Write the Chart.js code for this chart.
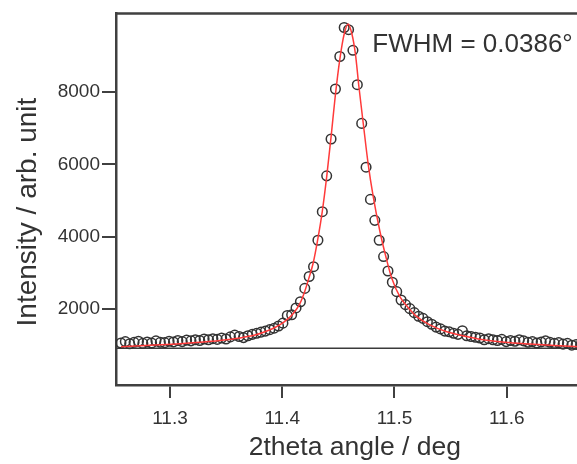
<!DOCTYPE html>
<html>
<head>
<meta charset="utf-8">
<script src="https://cdn.jsdelivr.net/npm/chart.js@4"></script>
<style>
  html, body { margin: 0; padding: 0; background: #fff; overflow: hidden; }
  #wrap { width: 600px; height: 464px; }
</style>
</head>
<body>
<div id="wrap"><canvas id="xrd" width="600" height="464"></canvas></div>
<script>
// ---------- data ----------
const angle = [
  11.2563, 11.2602, 11.2641, 11.2680, 11.2719, 11.2758, 11.2797, 11.2836, 11.2875, 11.2914,
  11.2953, 11.2992, 11.3031, 11.3070, 11.3109, 11.3148, 11.3187, 11.3226, 11.3265, 11.3304,
  11.3343, 11.3382, 11.3421, 11.3460, 11.3499, 11.3538, 11.3577, 11.3616, 11.3655, 11.3694,
  11.3733, 11.3772, 11.3811, 11.3850, 11.3889, 11.3928, 11.3967, 11.4006, 11.4045, 11.4084,
  11.4123, 11.4162, 11.4201, 11.4240, 11.4279, 11.4318, 11.4357, 11.4396, 11.4435, 11.4474,
  11.4513, 11.4552, 11.4591, 11.4630, 11.4669, 11.4708, 11.4747, 11.4786, 11.4825, 11.4864,
  11.4903, 11.4942, 11.4981, 11.5020, 11.5059, 11.5098, 11.5137, 11.5176, 11.5215, 11.5254,
  11.5293, 11.5332, 11.5371, 11.5410, 11.5449, 11.5488, 11.5527, 11.5566, 11.5605, 11.5644,
  11.5683, 11.5722, 11.5761, 11.5800, 11.5839, 11.5878, 11.5917, 11.5956, 11.5995, 11.6034,
  11.6073, 11.6112, 11.6151, 11.6190, 11.6229, 11.6268, 11.6307, 11.6346, 11.6385, 11.6424,
  11.6463, 11.6502, 11.6541, 11.6580, 11.6619, 11.6658, 11.6697
];
const intensity = [
  1060, 1100, 1040, 1080, 1110, 1050, 1090, 1060, 1120, 1080,
  1070, 1110, 1090, 1130, 1100, 1140, 1120, 1150, 1130, 1170,
  1150, 1180, 1160, 1200, 1170, 1230, 1280, 1240, 1210, 1260,
  1300, 1330, 1360, 1390, 1430, 1470, 1530, 1610, 1820, 1840,
  2030, 2200, 2570, 2900, 3170, 3900, 4690, 5680, 6700, 8080,
  8980, 9780, 9720, 9150, 8200, 7130, 5920, 5030, 4450, 3900,
  3450, 3050, 2740, 2480, 2250, 2120, 2010, 1900, 1800, 1740,
  1650, 1580, 1500, 1450, 1390, 1370, 1330, 1300, 1400, 1260,
  1240, 1220, 1200, 1150, 1180, 1150, 1130, 1160, 1100, 1130,
  1110, 1150, 1120, 1080, 1100, 1060, 1090, 1120, 1080, 1050,
  1070, 1030, 1050, 1000, 1020, 1010, 990
];

// fitted profile (red line)
const fitAngle = [
  11.2564, 11.2822, 11.3089, 11.3267, 11.3445, 11.3623, 11.3757, 11.3846, 11.3935, 11.4024,
  11.4095, 11.4157, 11.4202, 11.4240, 11.4278, 11.4318, 11.4357, 11.4396, 11.4435, 11.4473,
  11.4513, 11.4552, 11.4588, 11.4621, 11.4652, 11.4683, 11.4723, 11.4766, 11.4811, 11.4870,
  11.4923, 11.4976, 11.5048, 11.5119, 11.5199, 11.5315, 11.5466, 11.5626, 11.5760, 11.5982,
  11.6205, 11.6427, 11.6650, 11.6775
];
const fitIntensity = [
  960, 1000, 1040, 1080, 1130, 1200, 1280, 1370, 1490, 1660,
  1860, 2150, 2500, 2880, 3300, 3950, 4700, 5650, 6750, 7900,
  8900, 9600, 9880, 9600, 9050, 8150, 7100, 6000, 5100, 4150,
  3450, 2850, 2340, 2050, 1790, 1560, 1370, 1250, 1165, 1080,
  1030, 990, 960, 950
];

// background level line
const baseAngle = [11.2519, 11.6775];
const baseIntensity = [915, 915];

const xTicks = [11.3, 11.4, 11.5, 11.6];
const yTicks = [2000, 4000, 6000, 8000];
const fwhmLabel = "FWHM = 0.0386°";
const yTitle = "Intensity / arb. unit";

// ---------- styling ----------
const AXIS_COLOR = "#404040";
const TEXT_COLOR = "#333333";
const FONT = "'Liberation Sans', Arial, sans-serif";

const toXY = (xs, ys) => xs.map((x, i) => ({ x: x, y: ys[i] }));

// top/right frame, FWHM note and the (slightly off-centre) y title
const framePlugin = {
  id: "frame",
  afterDraw(chart) {
    const { ctx, chartArea: a, scales } = chart;
    ctx.save();
    ctx.strokeStyle = AXIS_COLOR;
    ctx.lineWidth = 2.5;
    ctx.beginPath();
    ctx.moveTo(a.left, a.top);
    ctx.lineTo(a.right, a.top);
    ctx.lineTo(a.right, a.bottom);
    ctx.stroke();

    ctx.fillStyle = TEXT_COLOR;
    ctx.font = "26px " + FONT;
    ctx.textBaseline = "alphabetic";
    ctx.fillText(fwhmLabel, scales.x.getPixelForValue(11.4803), scales.y.getPixelForValue(9096));

    // y axis title
    ctx.translate(28, scales.y.getPixelForValue(4680));
    ctx.rotate(-Math.PI / 2);
    ctx.font = "28px " + FONT;
    ctx.textAlign = "center";
    ctx.textBaseline = "middle";
    ctx.fillText(yTitle, 0, 0);
    ctx.restore();
  }
};

new Chart(document.getElementById("xrd"), {
  type: "scatter",
  data: {
    datasets: [
      {
        label: "fit",
        type: "line",
        data: toXY(fitAngle, fitIntensity),
        borderColor: "#ff3a3a",
        borderWidth: 1.5,
        pointRadius: 0,
        cubicInterpolationMode: "monotone",
        fill: false,
        order: 0
      },
      {
        label: "data",
        data: toXY(angle, intensity),
        pointStyle: "circle",
        pointRadius: 4.8,
        borderColor: "#333333",
        borderWidth: 1.5,
        backgroundColor: "rgba(0,0,0,0)",
        order: 1
      },
      {
        label: "background",
        type: "line",
        data: toXY(baseAngle, baseIntensity),
        borderColor: "#3a3a3a",
        borderWidth: 1.5,
        pointRadius: 0,
        order: 2
      }
    ]
  },
  options: {
    responsive: false,
    animation: false,
    devicePixelRatio: 1,
    layout: { padding: { top: 13, right: 6, left: 0, bottom: 0 } },
    plugins: { legend: { display: false }, tooltip: { enabled: false } },
    scales: {
      x: {
        type: "linear",
        min: 11.2519,
        max: 11.6775,
        afterBuildTicks: s => { s.ticks = xTicks.map(v => ({ value: v })); },
        afterFit: s => { s.height = 79; },
        grid: { drawOnChartArea: false, drawTicks: true, tickLength: 13, tickColor: AXIS_COLOR, lineWidth: 2 },
        border: { display: true, color: AXIS_COLOR, width: 2.5 },
        ticks: {
          color: TEXT_COLOR,
          font: { family: FONT, size: 19 },
          padding: 9,
          maxRotation: 0,
          callback: v => v.toFixed(1)
        },
        title: {
          display: true,
          text: "2theta angle / deg",
          color: TEXT_COLOR,
          font: { family: FONT, size: 26.5 },
          padding: { top: 0, bottom: 0 }
        }
      },
      y: {
        min: -100,
        max: 10170,
        afterBuildTicks: s => { s.ticks = yTicks.map(v => ({ value: v })); },
        afterFit: s => { s.width = 116; },
        grid: { drawOnChartArea: false, drawTicks: true, tickLength: 14, tickColor: AXIS_COLOR, lineWidth: 2 },
        border: { display: true, color: AXIS_COLOR, width: 2.5 },
        ticks: {
          color: TEXT_COLOR,
          font: { family: FONT, size: 19 },
          padding: 2,
          callback: v => String(v)
        },
        title: { display: false }
      }
    }
  },
  plugins: [framePlugin]
});
</script>
</body>
</html>
